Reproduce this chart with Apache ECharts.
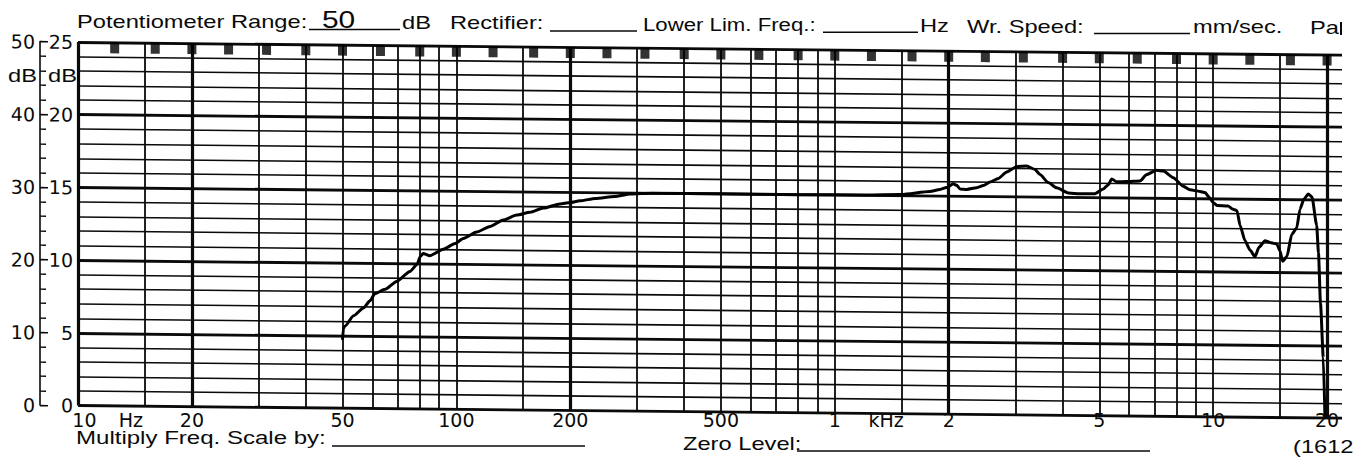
<!DOCTYPE html>
<html><head><meta charset="utf-8">
<script src="https://cdn.jsdelivr.net/npm/echarts@6/dist/echarts.min.js"></script>
<style>
html,body{margin:0;padding:0;background:#fff;}
#wrap{position:relative;width:1359px;height:472px;overflow:hidden;background:#fff;}
#paper,#print{position:absolute;left:0;top:0;width:1359px;height:472px;}
#paper{transform:skewY(0.5764deg);transform-origin:78px 0;}
</style></head><body>
<div id="wrap"><div id="paper"></div><div id="print"></div></div>
<script>
// ---- data ----
const freqHz = [50,50.3,50.8,53.4,56.8,59.1,60.9,64.8,69.5,75.4,78.8,80.1,81.7,85.1,92.3,99.2,104.3,113.1,122.7,133,144.3,156.5,169.7,187.8,199.6,212,233,262,288,330,500,800,1200,1500,1784,1897,1975,2057,2100,2142,2232,2371,2470,2572,2704,2847,3024,3216,3381,3486,3666,3858,4141,4446,4871,5124,5283,5393,5559,5906,6408,6675,7090,7384,7846,8337,8682,9228,9513,9806,9988,10233,10941,11282,11562,11775,12134,12513,12899,13213,13704,14213,14744,15015,15266,15671,16127,16625,16962,17378,17838,18243,18772,18979,19212,19543,19742];
const levelDb = [9.4,11.0,11.3,12.7,13.8,14.8,15.8,16.4,17.5,18.9,19.9,20.9,21.4,21.1,22.0,22.8,23.5,24.4,25.2,26.1,26.8,27.2,27.8,28.4,28.6,28.85,29.2,29.5,29.85,30.0,30.0,30.0,30.05,30.15,30.6,30.9,31.2,31.7,31.5,31.0,30.95,31.2,31.5,32.0,32.5,33.4,34.15,34.25,33.8,33.1,32.0,31.3,30.6,30.5,30.55,31.2,31.8,32.6,32.2,32.25,32.35,33.25,33.85,33.75,32.85,31.7,31.2,31.0,30.85,30.1,29.5,29.1,29.05,28.6,28.4,26.4,24.3,23.0,22.1,23.4,24.3,24.05,23.85,22.9,21.5,22.2,25.2,26.1,28.7,30.1,30.8,30.4,26.5,22.7,15.8,8.3,0];
const thirdOctaveHz = [12.5,16,20,25,31.5,40,50,63,80,100,125,160,200,250,315,400,500,630,800,1000,1250,1600,2000,2500,3150,4000,5000,6300,8000,10000,12500,16000,20000];
const gridHeavyHz = [10,20,200,2000,20000];
const gridLightHz = [15,30,40,50,60,70,80,90,100,150,300,400,500,600,700,800,900,1000,1500,3000,4000,5000,6000,7000,8000,9000,10000,15000];
const xTickValues = [10.4,13.8,20,50,100,200,500,1000,1366,2000,5000,10000,20000];
const xTickLabels = ['10','Hz','20','50','100','200','500','1','kHz','2','5','10','20'];

const INK = '#0a0a0a';
const FMIN = 10, FMAX = 21900;
const GRID = {left:78, top:42, width:1264, height:363.5, outerBoundsMode:'none', containLabel:false};

// ---- paper (grid + curve) ----
const paper = echarts.init(document.getElementById('paper'), null, {renderer:'svg'});
function logAxis(vals, width){
  return {type:'log', logBase:10, min:FMIN, max:FMAX, gridIndex:0,
    axisLine:{show:false}, axisLabel:{show:false},
    axisTick:{show:false, customValues: vals},
    splitLine:{show:true, lineStyle:{color:INK, width:width}}};
}
paper.setOption({
  animation:false,
  backgroundColor:'#fff',
  grid: GRID,
  xAxis:[logAxis(gridLightHz,1.8), logAxis(gridHeavyHz,3.2)],
  yAxis:[
    {type:'value', min:0, max:50, interval:10, position:'left', offset:38,
     axisLine:{show:true, lineStyle:{color:INK, width:1.6}},
     axisTick:{show:true, inside:true, length:8, lineStyle:{color:INK, width:1.6}},
     minorTick:{show:true, splitNumber:5, length:6, lineStyle:{color:INK, width:1.4}},
     axisLabel:{margin:5, fontFamily:'DejaVu Sans', fontSize:19, lineHeight:14, color:INK},
     splitLine:{show:true, lineStyle:{color:INK, width:2.8}},
     minorSplitLine:{show:true, lineStyle:{color:INK, width:1.6}}},
    {type:'value', min:0, max:25, interval:5, position:'left', offset:0,
     axisLine:{show:false}, axisTick:{show:false}, splitLine:{show:false},
     axisLabel:{margin:5, fontFamily:'DejaVu Sans', fontSize:19, lineHeight:14, color:INK}}
  ],
  series:[
    {type:'line', xAxisIndex:0, yAxisIndex:0, data:freqHz.map((f,i)=>[f,levelDb[i]]),
     symbol:'none', smooth:0.2, smoothMonotone:'x', z:5,
     lineStyle:{color:'#000', width:3}},
    {type:'scatter', xAxisIndex:0, yAxisIndex:0, data:thirdOctaveHz.map(f=>[f,50]),
     symbol:'rect', symbolSize:[9,11], symbolOffset:[0,5.5], itemStyle:{color:'#000'}, z:6, silent:true}
  ]
});

// ---- printed texts (not skewed) ----
const print = echarts.init(document.getElementById('print'), null, {renderer:'svg'});
function labelFor(v){
  let best=0, bd=1e9;
  xTickValues.forEach((t,i)=>{ const d=Math.abs(Math.log(v)-Math.log(t)); if(d<bd){bd=d;best=i;} });
  return xTickLabels[best];
}
function txt(x,y,s,size,sx){
  return {type:'text', x:x, y:y, scaleX:sx||1.28, silent:true,
    style:{text:s, fontFamily:'Liberation Sans', fontSize:size||18.5, fill:INK,
      textAlign:'left', align:'left', textVerticalAlign:'middle', verticalAlign:'middle'}};
}
function uline(x1,x2,y){
  return {type:'line', silent:true, shape:{x1:x1,y1:y,x2:x2,y2:y}, style:{stroke:INK, lineWidth:1.5}};
}
print.setOption({
  animation:false,
  grid: GRID,
  xAxis:{type:'log', logBase:10, min:FMIN, max:FMAX,
    axisLine:{show:false}, axisTick:{show:false}, splitLine:{show:false},
    axisLabel:{customValues:xTickValues, formatter:labelFor, margin:7, hideOverlap:false,
      showMinLabel:true, showMaxLabel:true, lineHeight:14,
      fontFamily:'DejaVu Sans', fontSize:19, color:INK}},
  yAxis:{type:'value', min:0, max:50, show:false},
  series:[],
  graphic:[
    txt(77,21.7,'Potentiometer Range:'),
    uline(309,400,29.5),
    txt(322,20,'50',23,1.3),
    txt(402,23,'dB'),
    txt(450,23.4,'Rectifier:'),
    uline(550,637,31),
    txt(643,24.7,'Lower Lim. Freq.:',18.5,1.2),
    uline(823,918,32.3),
    txt(920,25.9,'Hz'),
    txt(967,26.6,'Wr. Speed:'),
    uline(1094,1190,33.6),
    txt(1193,27.4,'mm/sec.'),
    txt(1310,28,'Pa'),
    {type:'line', silent:true, shape:{x1:1341,y1:22,x2:1341,y2:35}, style:{stroke:INK, lineWidth:2}},
    txt(8,76,'dB'),
    txt(48,76,'dB'),
    txt(76,438,'Multiply Freq. Scale by:',18.5,1.3),
    uline(332,585,446),
    txt(683,444,'Zero Level:'),
    uline(797,1150,451),
    txt(1293,447,'(1612')
  ]
});
</script></body></html>
